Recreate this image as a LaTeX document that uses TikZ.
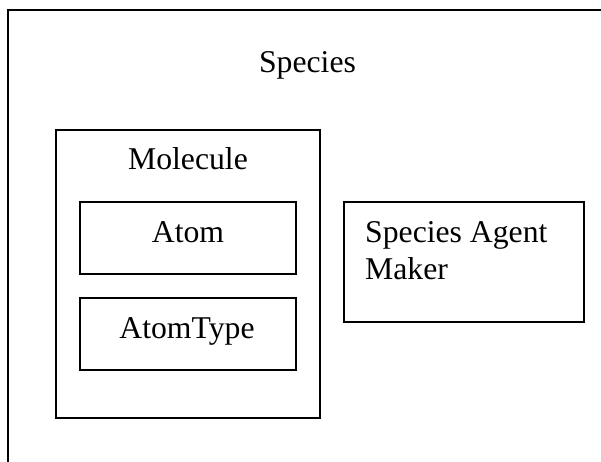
\documentclass[tikz,border=0pt]{standalone}
\usepackage{fontspec}
\setmainfont{Liberation Serif}
\begin{document}
\begin{tikzpicture}[x=1pt,y=-1pt,
  frame/.style={draw=black,line width=1.8pt,rectangle,anchor=north west,inner sep=0pt,outer sep=0pt},
  lbl/.style={inner sep=0pt,font=\fontsize{31.7}{37}\selectfont,anchor=base},
  lblleft/.style={inner sep=0pt,font=\fontsize{31.7}{37}\selectfont,anchor=base west}]
  \useasboundingbox (0,0) rectangle (601,462);
  \clip (0,0) rectangle (601,462);
  \fill[white] (0,0) rectangle (601,462);

  % outer container, running off the right and bottom
  \node[frame,minimum width=640pt,minimum height=500pt] (species) at (8,10) {};
  \node[lbl] (speciesT) at (307.5,73) {Species};

  % molecule with its two parts
  \node[frame,minimum width=264pt,minimum height=288pt] (molecule) at (56,130) {};
  \node[lbl] (moleculeT) at (188,170) {Molecule};

  \node[frame,minimum width=216pt,minimum height=72pt] (atom) at (80,202) {};
  \node[lbl] (atomT) at (188,242.5) {Atom};

  \node[frame,minimum width=216pt,minimum height=72pt] (atomtype) at (80,298) {};
  \node[lbl] (atomtypeT) at (187,338.5) {AtomType};

  % agent maker
  \node[frame,minimum width=240pt,minimum height=120pt] (maker) at (344,202) {};
  \node[lblleft] (makerT1) at (365,242) {Species Agent};
  \node[lblleft] (makerT2) at (365,279) {Maker};
\end{tikzpicture}
\end{document}
